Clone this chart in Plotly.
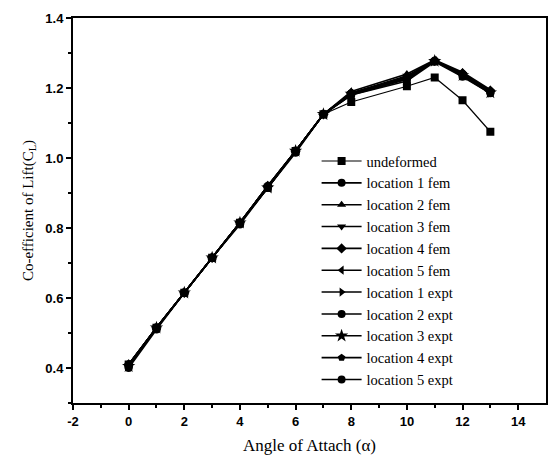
import plotly.graph_objects as go

angles = [0, 1, 2, 3, 4, 5, 6, 7, 8, 10, 11, 12, 13]
names = ["undeformed", "location 1 fem", "location 2 fem", "location 3 fem",
         "location 4 fem", "location 5 fem", "location 1 expt", "location 2 expt",
         "location 3 expt", "location 4 expt", "location 5 expt"]
symbols = ["square", "circle", "triangle-up", "triangle-down", "diamond",
           "triangle-left", "triangle-right", "circle", "star", "pentagon", "circle"]
x_ticks = [-2, 0, 2, 4, 6, 8, 10, 12, 14]
x_tick_labels = ["-2", "0", "2", "4", "6", "8", "10", "12", "14"]

undeformed = [0.410, 0.515, 0.615, 0.715, 0.815, 0.915, 1.020, 1.125, 1.160, 1.205, 1.230, 1.165, 1.075]
loc1_fem   = [0.410, 0.515, 0.615, 0.715, 0.815, 0.920, 1.020, 1.125, 1.185, 1.230, 1.278, 1.240, 1.190]
loc2_fem   = [0.410, 0.515, 0.615, 0.715, 0.815, 0.920, 1.020, 1.125, 1.190, 1.240, 1.280, 1.245, 1.195]
loc3_fem   = [0.405, 0.515, 0.615, 0.715, 0.815, 0.915, 1.020, 1.125, 1.185, 1.235, 1.278, 1.240, 1.190]
loc4_fem   = [0.410, 0.515, 0.615, 0.715, 0.815, 0.920, 1.020, 1.125, 1.185, 1.230, 1.278, 1.242, 1.192]
loc5_fem   = [0.410, 0.515, 0.615, 0.715, 0.815, 0.920, 1.020, 1.125, 1.182, 1.228, 1.278, 1.238, 1.188]
loc1_expt  = [0.405, 0.515, 0.615, 0.715, 0.815, 0.915, 1.020, 1.125, 1.180, 1.225, 1.276, 1.235, 1.185]
loc2_expt  = [0.400, 0.510, 0.615, 0.715, 0.810, 0.915, 1.015, 1.125, 1.180, 1.220, 1.275, 1.232, 1.185]
loc3_expt  = [0.405, 0.515, 0.615, 0.715, 0.815, 0.915, 1.020, 1.125, 1.183, 1.226, 1.277, 1.236, 1.187]
loc4_expt  = [0.410, 0.515, 0.615, 0.715, 0.815, 0.920, 1.020, 1.125, 1.186, 1.232, 1.278, 1.240, 1.190]
loc5_expt  = [0.405, 0.515, 0.615, 0.715, 0.815, 0.915, 1.020, 1.125, 1.184, 1.228, 1.277, 1.238, 1.188]
series = [undeformed, loc1_fem, loc2_fem, loc3_fem, loc4_fem, loc5_fem,
          loc1_expt, loc2_expt, loc3_expt, loc4_expt, loc5_expt]

fig = go.Figure()
for name, sym, vals in zip(names, symbols, series):
    fig.add_trace(go.Scatter(
        x=angles, y=vals, name=name, mode="lines+markers",
        line=dict(color="black", width=1.2 if name == "undeformed" else 1.6),
        marker=dict(symbol=sym, size=8 if sym != "star" else 10, color="black"),
    ))

tickfont = dict(family="Liberation Sans", size=13, color="black", weight="bold")
titlefont = dict(family="Liberation Serif", size=17, color="black")
fig.update_layout(
    width=550, height=459,
    margin=dict(l=73, r=2, t=18, b=56),
    paper_bgcolor="white", plot_bgcolor="white",
    showlegend=True,
    legend=dict(x=0.515, y=0.67, xanchor="left", yanchor="top",
                font=dict(family="Liberation Serif", size=14.5, color="black"),
                bgcolor="rgba(0,0,0,0)", tracegroupgap=0, itemwidth=40),
    xaxis=dict(range=[-2, 15], tickvals=x_ticks, ticktext=x_tick_labels,
               ticks="outside", ticklen=5, tickwidth=1.5, tickcolor="black",
               minor=dict(tickvals=[-1, 1, 3, 5, 7, 9, 11, 13], ticks="outside", ticklen=3, tickcolor="black"),
               showline=True, linecolor="black", linewidth=2, mirror=True,
               showgrid=False, zeroline=False, tickfont=tickfont,
               title=dict(text="Angle of Attach (α)", font=titlefont, standoff=12)),
    yaxis=dict(range=[0.3, 1.4], tickvals=[0.4, 0.6, 0.8, 1.0, 1.2, 1.4], tickformat=".1f",
               ticks="outside", ticklen=5, tickwidth=1.5, tickcolor="black",
               minor=dict(tickvals=[0.3, 0.5, 0.7, 0.9, 1.1, 1.3], ticks="outside", ticklen=3, tickcolor="black"),
               showline=True, linecolor="black", linewidth=2, mirror=True,
               showgrid=False, zeroline=False, tickfont=tickfont,
               title=dict(text="Co-efficient of Lift(C<sub>L</sub>)", font=dict(family="Liberation Serif", size=15, color="black"), standoff=8)),
)

fig.write_html("out.html")
